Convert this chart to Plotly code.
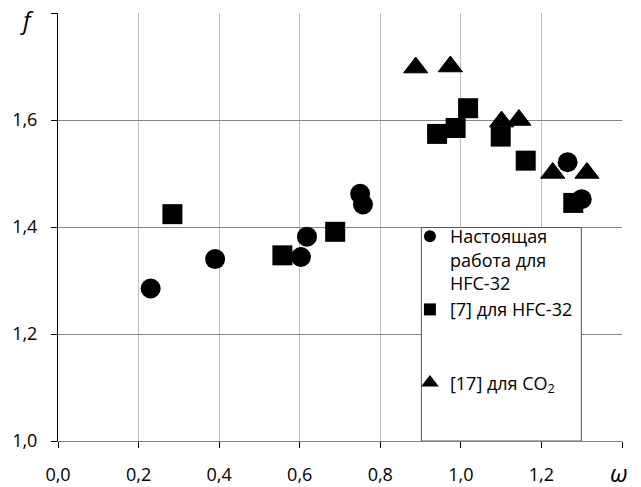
import plotly.graph_objects as go

# Data
circle_w = [0.230, 0.390, 0.603, 0.618, 0.750, 0.757, 1.265, 1.300]
circle_f = [1.285, 1.340, 1.344, 1.382, 1.462, 1.442, 1.521, 1.452]

square_w = [0.284, 0.557, 0.688, 0.941, 0.987, 1.018, 1.099, 1.161, 1.279]
square_f = [1.424, 1.347, 1.391, 1.574, 1.585, 1.622, 1.569, 1.524, 1.445]

tri_w = [0.888, 0.974, 1.101, 1.144, 1.228, 1.313]
tri_f = [1.698, 1.700, 1.597, 1.600, 1.501, 1.501]

names = ["Настоящая<br>работа для<br>HFC-32",
         "[7] для HFC-32<br> <br> ",
         "[17] для CO<sub>2</sub>"]

x_ticks = [0.0, 0.2, 0.4, 0.6, 0.8, 1.0, 1.2, 1.4]
x_labels = ["0,0", "0,2", "0,4", "0,6", "0,8", "1,0", "1,2", ""]
y_ticks = [1.0, 1.2, 1.4, 1.6, 1.8]
y_labels = ["1,0", "1,2", "1,4", "1,6", ""]

FONT = "Open Sans"

fig = go.Figure()
fig.add_trace(go.Scatter(x=circle_w, y=circle_f, mode="markers", name=names[0],
                         marker=dict(symbol="circle", size=20, color="black")))
fig.add_trace(go.Scatter(x=square_w, y=square_f, mode="markers", name=names[1],
                         marker=dict(symbol="square", size=20, color="black")))
fig.add_trace(go.Scatter(x=tri_w, y=tri_f, mode="markers", name=names[2],
                         marker=dict(symbol="triangle-up", size=21, color="black",
                                     line=dict(width=1, color="black"))))

# legend frame (white box covering the grid)
fig.add_shape(type="rect", xref="x", yref="y", x0=0.902, x1=1.299, y0=1.0, y1=1.399,
              fillcolor="white", line=dict(color="#555555", width=1), layer="above")

fig.update_layout(
    width=641, height=487,
    margin=dict(l=58, r=19, t=13, b=46),
    paper_bgcolor="white", plot_bgcolor="white",
    font=dict(family=FONT, size=18, color="black"),
    showlegend=True,
    legend=dict(x=0.624, y=0.521, xanchor="left", yanchor="top",
                bgcolor="rgba(0,0,0,0)", borderwidth=0,
                valign="top", itemsizing="constant", traceorder="normal",
                tracegroupgap=0,
                font=dict(family=FONT, size=18, color="black")),
    xaxis=dict(range=[0, 1.4], tickvals=x_ticks, ticktext=x_labels,
               showgrid=True, gridcolor="#bdbdbd", gridwidth=1,
               showline=True, linecolor="#808080", linewidth=1,
               ticks="outside", ticklen=6, tickcolor="black",
               ticklabelstandoff=11, zeroline=False, fixedrange=True,
               automargin=False),
    yaxis=dict(range=[1.0, 1.8], tickvals=y_ticks, ticktext=y_labels,
               showgrid=True, gridcolor="#858585", gridwidth=1,
               showline=True, linecolor="black", linewidth=1,
               ticks="outside", ticklen=6, tickcolor="black",
               ticklabelstandoff=10, zeroline=False, fixedrange=True,
               automargin=False),
)

fig.add_annotation(text="<i>f</i>", xref="paper", yref="paper", x=-0.055, y=1.0,
                   xanchor="center", yanchor="middle", yshift=-6, showarrow=False,
                   font=dict(family=FONT, size=24, color="black"))
fig.add_annotation(text="<i>ω</i>", xref="paper", yref="paper", x=1.0, y=0,
                   xanchor="center", yanchor="middle", yshift=-31, xshift=-3,
                   showarrow=False, borderpad=0,
                   font=dict(family=FONT, size=24, color="black"))

fig.write_html("out.html", config={"displayModeBar": False},
               post_script="document.body.style.margin='0px';")
